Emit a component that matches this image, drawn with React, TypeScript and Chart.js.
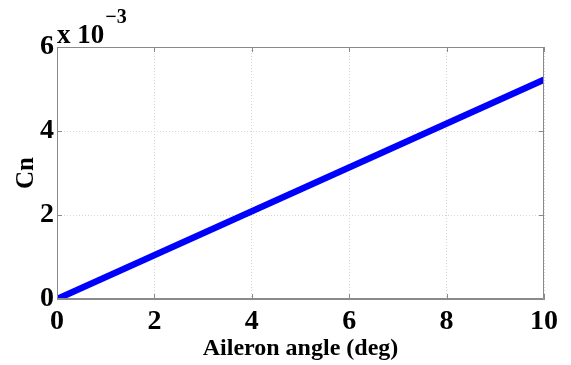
import React, { useEffect, useRef } from "react";
import { Chart, registerables } from "chart.js";

Chart.register(...registerables);

// ---- data ----
const aileronAngles = [0, 10];
const cnValues = [0, 0.00522];
const xTicks = [0, 2, 4, 6, 8, 10];
const yTicks = [0, 0.002, 0.004, 0.006];
const yTickLabels = ["0", "2", "4", "6"];
const xTitle = "Aileron angle (deg)";
const yTitle = "Cn";
const exponentBase = "x 10";
const exponentPower = "\u22123";

const FONT = "'Liberation Serif', 'Times New Roman', serif";
const AXIS_GRAY = "#8a8a8a";

const framePlugin = {
  id: "matlabFrame",
  afterDraw(chart: any) {
    const { ctx, chartArea: a, scales } = chart;
    const xs = scales.x;
    const ys = scales.y;
    ctx.save();
    ctx.strokeStyle = AXIS_GRAY;
    ctx.lineWidth = 1;
    ctx.beginPath();
    ctx.rect(a.left + 0.5, a.top + 0.5, a.right - a.left - 1, a.bottom - a.top - 1);
    ctx.stroke();
    const tl = 5;
    ctx.beginPath();
    xTicks.forEach((v) => {
      const px = Math.round(xs.getPixelForValue(v)) + 0.5;
      ctx.moveTo(px, a.bottom);
      ctx.lineTo(px, a.bottom - tl);
      ctx.moveTo(px, a.top);
      ctx.lineTo(px, a.top + tl);
    });
    yTicks.forEach((v) => {
      const py = Math.round(ys.getPixelForValue(v)) + 0.5;
      ctx.moveTo(a.left, py);
      ctx.lineTo(a.left + tl, py);
      ctx.moveTo(a.right, py);
      ctx.lineTo(a.right - tl, py);
    });
    ctx.stroke();
    // exponent label
    ctx.fillStyle = "#000";
    ctx.textBaseline = "alphabetic";
    ctx.textAlign = "left";
    ctx.font = `bold 27px ${FONT}`;
    ctx.fillText(exponentBase, a.left, a.top - 4);
    const w = ctx.measureText(exponentBase).width;
    ctx.font = `bold 20px ${FONT}`;
    ctx.fillText(exponentPower, a.left + w + 1, a.top - 24);
    ctx.restore();
  },
};

export default function App() {
  const ref = useRef<HTMLCanvasElement | null>(null);

  useEffect(() => {
    if (!ref.current) return;
    const chart = new Chart(ref.current, {
      type: "line",
      data: {
        datasets: [
          {
            data: aileronAngles.map((x, i) => ({ x, y: cnValues[i] })),
            borderColor: "#0000ff",
            borderWidth: 6.5,
            pointRadius: 0,
            fill: false,
            tension: 0,
          },
        ],
      },
      options: {
        animation: false,
        responsive: false,
        layout: { padding: { top: 47, right: 27, left: 0, bottom: 0 } },
        plugins: { legend: { display: false }, tooltip: { enabled: false } },
        scales: {
          x: {
            type: "linear",
            min: 0,
            max: 10,
            afterBuildTicks: (s: any) => {
              s.ticks = xTicks.map((v) => ({ value: v }));
            },
            afterFit: (s: any) => {
              s.height = 66;
            },
            ticks: {
              color: "#000",
              font: { family: FONT, size: 28, weight: "bold" },
              padding: 6,
              maxRotation: 0,
              autoSkip: false,
            },
            grid: { color: "#d6d6d6", drawTicks: false, lineWidth: 1 },
            border: { color: AXIS_GRAY, dash: [1, 2] },
            title: {
              display: true,
              text: xTitle,
              color: "#000",
              font: { family: FONT, size: 24, weight: "bold" },
              padding: { top: 0, bottom: 2 },
            },
          },
          y: {
            type: "linear",
            min: 0,
            max: 0.006,
            afterBuildTicks: (s: any) => {
              s.ticks = yTicks.map((v) => ({ value: v }));
            },
            afterFit: (s: any) => {
              s.width = 57;
            },
            ticks: {
              color: "#000",
              font: { family: FONT, size: 28, weight: "bold" },
              padding: 3,
              callback: (v: any) => {
                const i = yTicks.findIndex((t) => Math.abs(t - v) < 1e-9);
                return i >= 0 ? yTickLabels[i] : "";
              },
            },
            grid: { color: "#d6d6d6", drawTicks: false, lineWidth: 1 },
            border: { color: AXIS_GRAY, dash: [1, 2] },
            title: {
              display: true,
              text: yTitle,
              color: "#000",
              font: { family: FONT, size: 25, weight: "bold" },
              padding: { top: 12, bottom: 0 },
            },
          },
        },
      },
      plugins: [framePlugin],
    });
    return () => chart.destroy();
  }, []);

  return (
    <div style={{ position: "fixed", left: 0, top: 0, width: 571, height: 365, background: "#fff" }}>
      <canvas ref={ref} width={571} height={365} style={{ display: "block" }} />
    </div>
  );
}
